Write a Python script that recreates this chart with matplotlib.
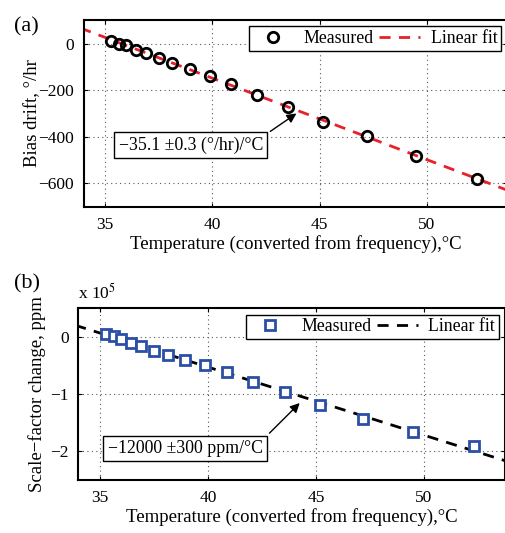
import numpy as np
import matplotlib.pyplot as plt
from matplotlib.ticker import FuncFormatter

plt.rcParams['font.family'] = ['Liberation Serif', 'DejaVu Serif']
plt.rcParams['mathtext.fontset'] = 'stix'

# temperatures (converted from frequency), degC
temps = [35.30, 35.64, 35.99, 36.44, 36.91, 37.52, 38.14, 38.95,
         39.88, 40.89, 42.08, 43.55, 45.18, 47.19, 49.50, 52.32]
# (a) bias drift, deg/hr
bias = [11, 0, -7, -26, -40, -60, -83, -109,
        -140, -174, -219, -272, -336, -396, -480, -582]
# (b) scale-factor change, ppm
sf = [5200, 1200, -4000, -9700, -16000, -24100, -31600, -40200,
      -49300, -61400, -78100, -96600, -119000, -143600, -166600, -191400]

xlim = (34, 53.75)
xticks = [35, 40, 45, 50]

fig = plt.figure(figsize=(5.05, 5.33), dpi=100)
ax1 = fig.add_axes([0.1655, 0.612, 0.839, 0.350])
ax2 = fig.add_axes([0.155, 0.0994, 0.845, 0.322])

fs = 13.5
tfs = 12.5
lfs = 12.8
xfit = np.array([33, 56])


def style(ax):
    ax.set_xlim(*xlim)
    ax.set_xticks(xticks)
    ax.grid(True, linestyle=(0, (1, 3)), color='0.35', linewidth=0.8)
    ax.tick_params(direction='in', length=3, labelsize=tfs, top=True,
                   right=True, pad=7)
    for s in ax.spines.values():
        s.set_linewidth(1.5)
    ax.set_xlabel('Temperature (converted from frequency),\u00b0C',
                  fontsize=fs, labelpad=1.5)


def legend(ax):
    leg = ax.legend(loc='upper right', ncol=2, fontsize=lfs, frameon=True,
                    fancybox=False, edgecolor='black', handlelength=2.3,
                    columnspacing=0.3, handletextpad=0.6, borderpad=0.2,
                    borderaxespad=0.35, framealpha=1)
    leg.get_frame().set_linewidth(1)


# (a)
p1 = np.polyfit(temps, bias, 1)
ax1.plot(temps, bias, 'o', ms=7.5, mfc='none', mec='black', mew=2,
         label='Measured', zorder=3)
ax1.plot(xfit, np.polyval(p1, xfit), '--', color='#e8202a', lw=2,
         dashes=(4, 3), label='Linear fit')
style(ax1)
ax1.set_ylim(-700, 100)
ax1.set_yticks([0, -200, -400, -600])
ax1.set_ylabel('Bias drift, \u00b0/hr', fontsize=fs, labelpad=-2)
legend(ax1)
ax1.annotate('\u221235.1 \u00b10.3 (\u00b0/hr)/\u00b0C', xy=(44.03, -293),
             xytext=(39.0, -435), fontsize=lfs, ha='center', va='center',
             bbox=dict(boxstyle='square,pad=0.25', fc='white', ec='black', lw=1),
             arrowprops=dict(arrowstyle='-|>', color='black', lw=1,
                             mutation_scale=14, relpos=(1, 1)))
fig.text(0.027, 0.950, '(a)', fontsize=16, ha='left', va='center')

# (b)
p2 = np.polyfit(temps, sf, 1)
ax2.plot(temps, sf, 's', ms=6.5, mfc='white', mec='#2b4ea6', mew=2,
         label='Measured', zorder=3)
ax2.plot(xfit, np.polyval(p2, xfit), '--', color='black', lw=2,
         dashes=(4, 3), label='Linear fit')
style(ax2)
ax2.set_ylim(-2.5e5, 0.5e5)
ax2.set_yticks([0, -1e5, -2e5])
ax2.yaxis.set_major_formatter(
    FuncFormatter(lambda v, pos: ('%d' % round(v / 1e5)).replace('-', '\u2212')))
ax2.set_ylabel('Scale\u2212factor change, ppm', fontsize=fs, labelpad=3)
legend(ax2)
ax2.annotate('\u221212000 \u00b1300 ppm/\u00b0C', xy=(44.34, -1.12e5),
             xytext=(38.94, -1.95e5), fontsize=lfs, ha='center', va='center',
             bbox=dict(boxstyle='square,pad=0.25', fc='white', ec='black', lw=1),
             arrowprops=dict(arrowstyle='-|>', color='black', lw=1,
                             mutation_scale=14, relpos=(1, 1)))
ax2.text(0.0, 1.03, 'x 10$^5$', transform=ax2.transAxes, fontsize=tfs,
         ha='left', va='bottom')
fig.text(0.027, 0.468, '(b)', fontsize=16, ha='left', va='center')

fig.savefig('out.png', dpi=100)
